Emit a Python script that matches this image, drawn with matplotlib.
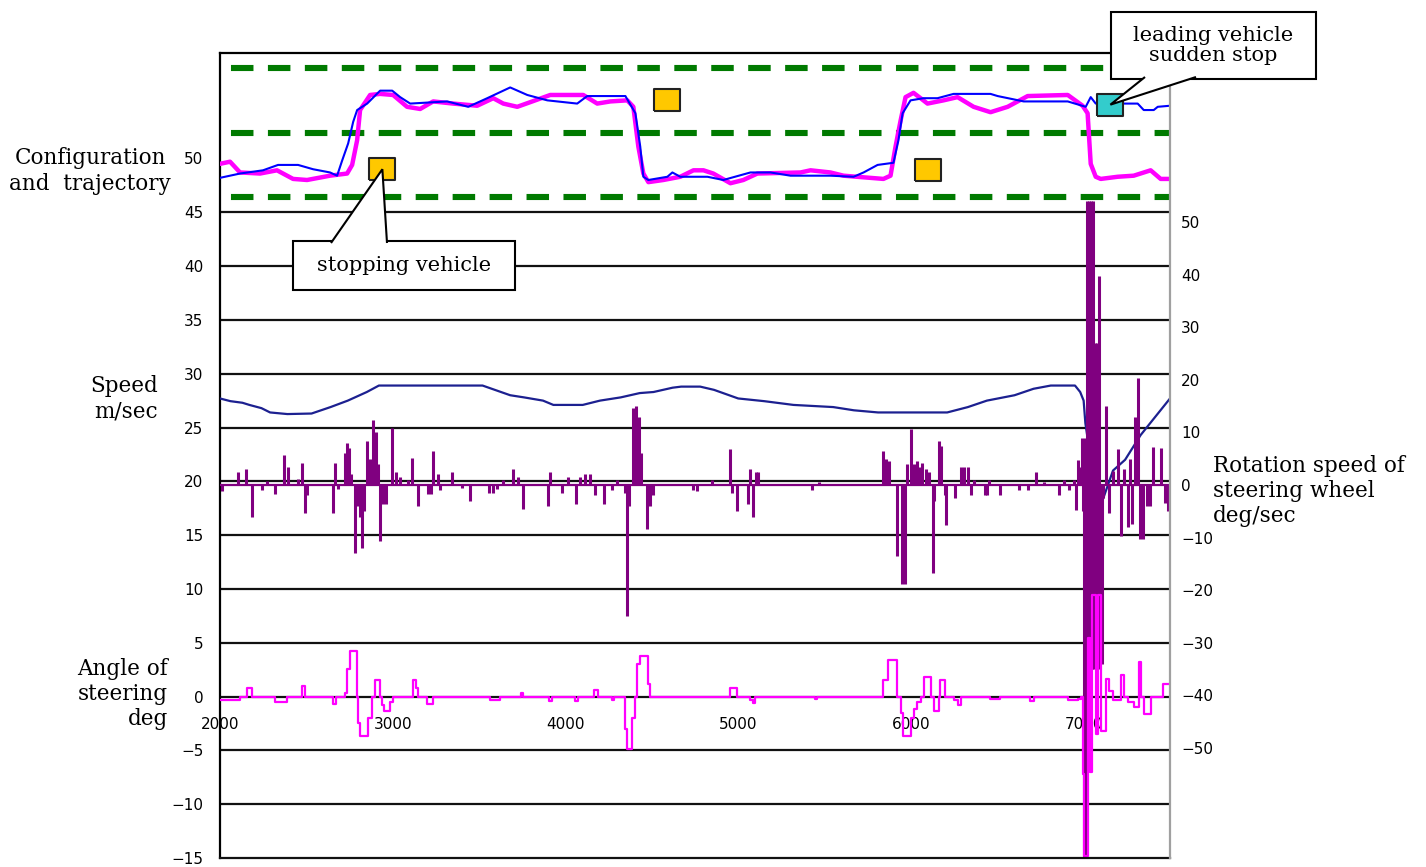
import matplotlib
matplotlib.use("Agg")
import matplotlib.pyplot as plt
from matplotlib.patches import Polygon, Rectangle

plt.rcParams['lines.scale_dashes'] = False

# =====================================================
# DATA
# =====================================================

# lane boundaries in the configuration panel (left axis units)
lane_lines = [46.4, 52.4, 58.4]

# trajectory of the vehicle (blue) and of the driver model (magenta)
blue_x = [2000, 2116, 2249, 2336, 2452, 2539, 2637, 2678, 2707, 2742,
          2771, 2794, 2852, 2927, 2997, 3043, 3101, 3315, 3437, 3547,
          3680, 3779, 3895, 4068, 4126, 4347, 4405, 4433, 4451, 4480,
          4590, 4619, 4665, 4781, 4822, 4914, 5071, 5187, 5303, 5534,
          5668, 5726, 5807, 5899, 5928, 5952, 5998, 6073, 6154, 6247,
          6461, 6502, 6653, 6908, 7012, 7041, 7070, 7313, 7348, 7406,
          7429, 7500]
blue_y = [48.2, 48.6, 48.9, 49.4, 49.4, 49.0, 48.7, 48.4, 49.8, 51.4,
          53.4, 54.5, 55.1, 56.3, 56.3, 55.7, 55.1, 55.3, 54.8, 55.6,
          56.6, 55.9, 55.4, 55.1, 55.8, 55.8, 54.2, 51.1, 48.3, 48.0,
          48.3, 48.7, 48.3, 48.3, 48.3, 48.0, 48.7, 48.7, 48.4, 48.4,
          48.3, 48.7, 49.4, 49.6, 51.7, 54.2, 55.4, 55.6, 55.6, 56.0,
          56.0, 55.8, 55.3, 55.3, 54.8, 55.7, 55.1, 55.1, 54.5, 54.5,
          54.8, 54.9]

mag_x = [2000, 2058, 2116, 2232, 2330, 2423, 2504, 2637, 2736, 2765,
         2794, 2811, 2869, 2927, 3002, 3083, 3159, 3234, 3350, 3489,
         3582, 3640, 3721, 3808, 3912, 4103, 4184, 4260, 4358, 4393,
         4422, 4451, 4480, 4567, 4665, 4741, 4799, 4856, 4955, 5030,
         5111, 5361, 5419, 5534, 5610, 5841, 5882, 5911, 5940, 5969,
         6015, 6056, 6096, 6189, 6270, 6363, 6461, 6560, 6676, 6908,
         6994, 7023, 7041, 7070, 7099, 7197, 7290, 7388, 7446, 7500]
mag_y = [49.5, 49.7, 48.7, 48.6, 48.9, 48.1, 48.0, 48.4, 48.6, 49.4,
         51.7, 54.5, 55.9, 56.0, 55.9, 54.8, 54.6, 55.3, 55.1, 54.9,
         55.6, 55.1, 54.8, 55.3, 55.9, 55.9, 55.1, 55.3, 55.4, 54.8,
         51.1, 48.6, 47.8, 48.0, 48.3, 48.9, 48.9, 48.6, 47.7, 48.0,
         48.6, 48.7, 48.9, 48.7, 48.4, 48.1, 48.4, 51.1, 53.5, 55.7,
         56.1, 55.6, 55.1, 55.4, 55.7, 54.8, 54.3, 54.8, 55.8, 55.9,
         54.9, 54.2, 49.5, 48.3, 48.1, 48.3, 48.4, 48.9, 48.1, 48.1]

# obstacles
stop_x = [2940, 4585, 6100]
stop_y = [49.0, 55.4, 48.9]
lead_x = [7155]
lead_y = [55.0]

# speed (m/sec)
speed_x = [2000, 2060, 2130, 2170, 2240, 2290, 2390, 2530, 2640, 2740,
           2850, 2920, 3520, 3680, 3760, 3870, 3930, 4100, 4200, 4320,
           4430, 4510, 4620, 4670, 4780, 4860, 5000, 5150, 5320, 5550,
           5670, 5810, 6210, 6330, 6440, 6600, 6710, 6810, 6950, 6980,
           7000, 7010, 7060, 7100, 7170, 7240, 7330, 7420, 7500]
speed_v = [27.7, 27.45, 27.3, 27.1, 26.8, 26.4, 26.25, 26.3, 26.9, 27.5,
           28.3, 28.9, 28.9, 28.0, 27.8, 27.5, 27.1, 27.1, 27.5, 27.8,
           28.2, 28.3, 28.7, 28.8, 28.8, 28.5, 27.7, 27.45, 27.1, 26.9,
           26.6, 26.4, 26.4, 26.9, 27.5, 28.0, 28.6, 28.9, 28.9, 28.3,
           27.5, 25.4, 20.0, 17.8, 21.0, 22.0, 24.3, 26.1, 27.7]

# rotation speed of steering wheel (deg/sec, right axis)
rot_x = [2012, 2104, 2151, 2185, 2243, 2272, 2319, 2371, 2394, 2452,
         2475, 2492, 2504, 2655, 2666, 2684, 2724, 2736, 2747, 2759,
         2782, 2800, 2811, 2823, 2834, 2852, 2869, 2886, 2904, 2915,
         2927, 2944, 2962, 2997, 3020, 3043, 3089, 3112, 3147, 3205,
         3223, 3234, 3263, 3275, 3344, 3402, 3449, 3559, 3582, 3605,
         3640, 3698, 3727, 3756, 3900, 3912, 3982, 4016, 4063, 4086,
         4115, 4144, 4173, 4225, 4271, 4300, 4347, 4358, 4370, 4393,
         4410, 4428, 4439, 4474, 4491, 4509, 4741, 4764, 4851, 4955,
         4967, 4995, 5059, 5071, 5088, 5106, 5117, 5430, 5465, 5841,
         5858, 5876, 5917, 5946, 5963, 5980, 5998, 6015, 6033, 6050,
         6067, 6085, 6102, 6125, 6136, 6160, 6177, 6200, 6206, 6258,
         6288, 6305, 6328, 6345, 6363, 6427, 6438, 6450, 6514, 6624,
         6676, 6722, 6769, 6855, 6884, 6913, 6942, 6954, 6966, 6977,
         6989, 6994, 7000, 7006, 7012, 7018, 7023, 7029, 7035, 7041,
         7046, 7052, 7058, 7064, 7070, 7075, 7081, 7087, 7093, 7099,
         7104, 7110, 7128, 7145, 7168, 7197, 7215, 7232, 7255, 7267,
         7278, 7296, 7313, 7325, 7342, 7365, 7383, 7400, 7446, 7469,
         7487]
rot_v = [-1.1, 2.5, 3, -6, -1, 0.8, -1.7, 5.7, 3.5, 1.2,
         4.2, -5.3, -2, -5.3, 4.2, -0.8, 6, 8, 7, 2,
         -13, -4, -6, -12, -5, 8.4, 5, 12.4, 10, 4,
         -10.6, -3.6, -3.6, 10.8, 2.5, 1.5, 1, 5.1, -4, -1.7,
         -1.7, 6.5, 2, -1, 2.5, -0.5, -3, -1.5, -1.5, -0.8,
         1, 3, 1.5, -4.6, -4, 2.5, -1.5, 1.5, -3.6, 1.5,
         2, 2, -2, -3.6, -1, 1, -1.5, -25, -4, 14.7,
         15, 13, 6, -8.4, -4, -2, -1, -1.2, 1, 6.8,
         -1.5, -5, -3.6, 3, -6, 2.5, 2.5, -1, 0.5, 6.5,
         5, 4.5, -13.5, -18.8, -18.8, 4, 10.6, 4, 4.5, 3.5,
         4.2, 3, 2.5, -16.7, -3, 8.4, 7.5, -2, -7.6, -2.5,
         3.5, 3.5, 3.5, -2, 1, -2, -2, 1, -2, -1,
         -1, 2.5, 0.5, -2, 1, -1, 1, -4.8, 4.8, 3.5,
         9, -5, -71, 9, -71, 54, -35, 54, -35, 54,
         -35, 54, -35, 27, -35, 27, -35, 39.7, -34, -21.7,
         -34, -2.5, 15, -5.3, 2.6, 6.8, -9.7, 3, -8, 5,
         -7.4, 13, 20.3, -10.3, -10.3, -4, -4, 7.2, 7, -3.5,
         -5]

# angle of steering (deg, left axis), value held until next x
steer_x = [2000, 2116, 2156, 2185, 2319, 2388, 2475, 2492, 2655, 2672,
           2724, 2736, 2753, 2794, 2800, 2811, 2857, 2881, 2898, 2927,
           2938, 2950, 2985, 3002, 3118, 3135, 3147, 3199, 3234, 3564,
           3622, 3744, 3756, 3906, 3924, 4057, 4074, 4167, 4190, 4271,
           4283, 4347, 4358, 4387, 4405, 4416, 4433, 4480, 4491, 4955,
           4995, 5071, 5088, 5100, 5447, 5459, 5841, 5870, 5922, 5940,
           5952, 5998, 6015, 6038, 6056, 6073, 6114, 6131, 6160, 6171,
           6200, 6247, 6270, 6288, 6456, 6514, 6688, 6711, 6908, 6966,
           6983, 6994, 7000, 7023, 7035, 7046, 7070, 7081, 7099, 7128,
           7145, 7168, 7215, 7232, 7255, 7290, 7319, 7330, 7348, 7388,
           7458, 7500]
steer_v = [-0.3, 0, 0.8, 0, -0.5, 0, 1.0, 0, -0.7, 0,
           0.3, 2.6, 4.2, 0, -2.5, -3.7, -2.0, 0, 1.5, 0,
           -0.8, -1.3, -0.5, 0, 1.5, 0.8, 0, -0.7, 0, -0.3,
           0, 0.3, 0, -0.4, 0, -0.4, 0, 0.6, 0, -0.3,
           0, -3.0, -4.9, -2.0, 0, 3.0, 3.8, 1.2, 0, 0.8,
           0, -0.3, -0.6, 0, -0.2, 0, 1.5, 3.4, 0, -1.5,
           -3.7, -2.0, -1.2, -0.5, 0, 1.8, 0, -1.3, 0, 1.5,
           0, -0.3, -0.8, 0, -0.2, 0, -0.4, 0, -0.3, -0.2,
           0, -7.2, -14.8, 5.4, -7, 9.4, -3.5, 9.4, -3.2, 1.6,
           0.5, -0.3, 2.0, 0, -0.5, -1.0, 3.2, 0, -1.6, 0,
           1.2, 1.2]

x_ticks = [2000, 3000, 4000, 5000, 6000, 7000]
left_ticks = list(range(-15, 55, 5))
grid_levels = list(range(-10, 50, 5))
right_ticks = list(range(-50, 60, 10))

# =====================================================
# FIGURE
# =====================================================

W, H = 1426, 867
fig = plt.figure(figsize=(W / 100, H / 100), dpi=100)
ax = fig.add_axes([220 / W, 1 - 858 / H, 950 / W, 805 / H])
ax2 = ax.twinx()

x_lim = (2000, 7500)
ax.set_xlim(*x_lim)
ax.set_ylim(-15, 59.8)
ax2.set_ylim(-70.9, 82.1)

# black grid
for lvl in grid_levels:
    ax.axhline(lvl, color='#111111', lw=1.6, zorder=1)

# lane boundaries
for lvl in lane_lines:
    ax.axhline(lvl, color='#007a00', lw=4.4,
               linestyle=(18.7, (16.2, 10.4)), dash_capstyle='butt', zorder=2)

# trajectories
ax.plot(mag_x, mag_y, color='#ff00ff', lw=3.2, zorder=3)
ax.plot(blue_x, blue_y, color='#0000ff', lw=1.5, zorder=4)

# speed
ax.plot(speed_x, speed_v, color='#1c2090', lw=1.6, zorder=3)

# rotation speed bars (right axis scale)
ax.hlines(0, *x_lim, color='#800080', lw=1.6, transform=ax2.transData, zorder=4)
ax.vlines(rot_x, 0, rot_v, color='#800080', lw=2.2,
          transform=ax2.transData, zorder=4)

# steering angle
ax.plot(steer_x, steer_v, color='#ff00ff', lw=1.6, drawstyle='steps-post', zorder=5)

# obstacles
box = [(-1.2, -1), (1.2, -1), (1.2, 1), (-1.2, 1), (-1.2, -1)]
ax.plot(stop_x, stop_y, linestyle='none', marker=box, ms=19,
        mfc='#ffc800', mec='#222222', mew=1.5, zorder=6)
ax.plot(lead_x, lead_y, linestyle='none', marker=box, ms=19,
        mfc='#33cccc', mec='#222222', mew=1.5, zorder=6)

ax.set_xlim(*x_lim)
ax.set_ylim(-15, 59.8)

# =====================================================
# AXES STYLE
# =====================================================

ax.set_xticks(x_ticks)
ax.set_yticks(left_ticks)
ax2.set_yticks(right_ticks)

ax.spines['bottom'].set_position(('data', 0))
ax.spines['bottom'].set_visible(False)
ax.spines['right'].set_visible(False)
ax.spines['left'].set_linewidth(1.6)
ax.spines['top'].set_linewidth(1.6)
ax.axhline(-15, color='#111111', lw=1.6, clip_on=False, zorder=6)

for side in ['left', 'top', 'bottom']:
    ax2.spines[side].set_visible(False)
ax2.spines['right'].set_color('#a0a0a0')
ax2.spines['right'].set_linewidth(1.6)

ax.tick_params(axis='x', length=0, pad=15, labelsize=11)
ax.tick_params(axis='y', length=0, pad=12, labelsize=11)
ax2.tick_params(axis='y', length=0, pad=8, labelsize=11)

# =====================================================
# TEXT
# =====================================================

serif = 'DejaVu Serif'

fig.text(90 / W, 1 - 171 / H, "Configuration\nand  trajectory", ha='center',
         va='center', multialignment='center', fontsize=15.5, family=serif,
         linespacing=1.2)
fig.text(158 / W, 1 - 399 / H, "Speed\nm/sec", ha='right', va='center',
         multialignment='right', fontsize=15.5, family=serif, linespacing=1.2)
fig.text(168 / W, 1 - 694 / H, "Angle of\nsteering\ndeg", ha='right',
         va='center', multialignment='right', fontsize=15.5, family=serif,
         linespacing=1.15)
fig.text(1213 / W, 1 - 491 / H, "Rotation speed of\nsteering wheel\ndeg/sec",
         ha='left', va='center', multialignment='left', fontsize=15.5,
         family=serif, linespacing=1.15)

# =====================================================
# CALLOUT BOXES
# =====================================================


def to_fig(px, py):
    # pixel position measured from the top-left corner -> figure fraction
    return (px / W, 1 - py / H)


def callout(text, x0, y0, x1, y1, base, tip):
    # box
    fig.patches.append(Rectangle(to_fig(x0, y1), (x1 - x0) / W, (y1 - y0) / H,
                                 transform=fig.transFigure, fc='white',
                                 ec='black', lw=1.5, zorder=1.5))
    # wedge pointing at the obstacle (tip given in data units)
    tip_fig = fig.transFigure.inverted().transform(ax.transData.transform(tip))
    fig.patches.append(Polygon([to_fig(*base[0]), tip_fig, to_fig(*base[1])],
                               closed=False, transform=fig.transFigure,
                               fc='white', ec='black', lw=1.5, zorder=2))
    cx, cy = to_fig((x0 + x1) / 2, (y0 + y1) / 2)
    fig.text(cx, cy, text, ha='center', va='center', multialignment='center',
             fontsize=15, family=serif, linespacing=1.1, zorder=3)


callout("stopping vehicle", 293, 241, 515, 290,
        [(331, 243), (387, 243)], (stop_x[0], stop_y[0]))
callout("leading vehicle\nsudden stop", 1111, 12, 1316, 79,
        [(1145, 77), (1196, 77)], (lead_x[0], lead_y[0]))

fig.savefig("out.png", dpi=100)
